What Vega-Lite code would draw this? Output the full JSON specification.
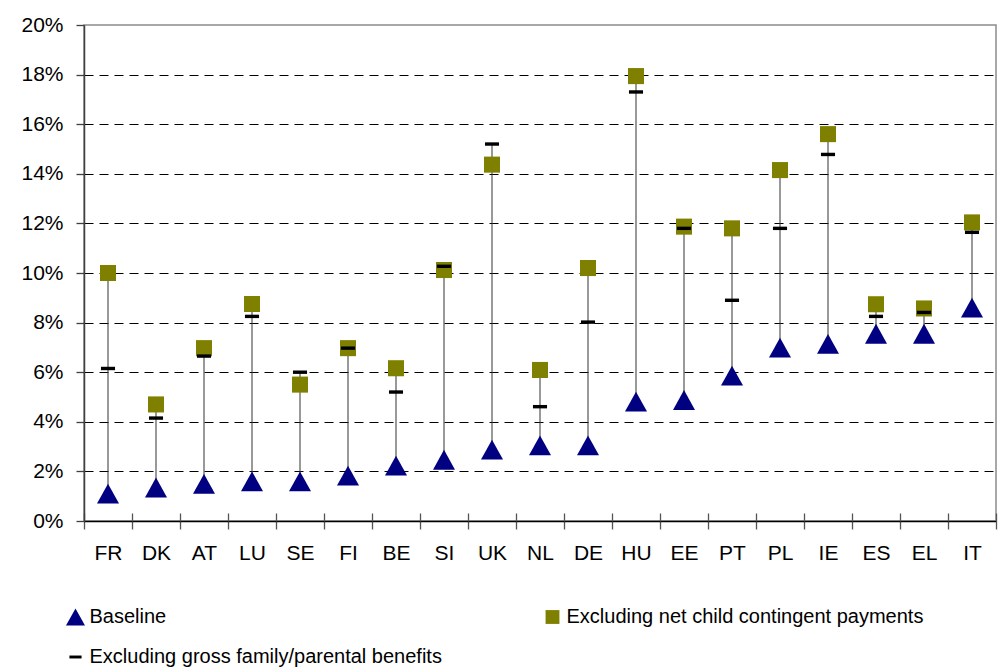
{
  "$schema": "https://vega.github.io/schema/vega-lite/v6.json",
  "description": "Baseline vs excluding family benefits / child contingent payments, by country",
  "width": 912,
  "height": 496,
  "autosize": "none",
  "padding": {"left": 84, "top": 25, "right": 8, "bottom": 147},
  "background": "white",
  "data": {
    "values": [
      {"country": "FR", "Baseline": 1.1, "Excluding net child contingent payments": 10.0, "Excluding gross family/parental benefits": 6.15},
      {"country": "DK", "Baseline": 1.35, "Excluding net child contingent payments": 4.7, "Excluding gross family/parental benefits": 4.15},
      {"country": "AT", "Baseline": 1.5, "Excluding net child contingent payments": 6.97, "Excluding gross family/parental benefits": 6.65},
      {"country": "LU", "Baseline": 1.6, "Excluding net child contingent payments": 8.75, "Excluding gross family/parental benefits": 8.25},
      {"country": "SE", "Baseline": 1.6, "Excluding net child contingent payments": 5.5, "Excluding gross family/parental benefits": 6.0},
      {"country": "FI", "Baseline": 1.83, "Excluding net child contingent payments": 6.97, "Excluding gross family/parental benefits": 6.97},
      {"country": "BE", "Baseline": 2.23, "Excluding net child contingent payments": 6.16, "Excluding gross family/parental benefits": 5.2},
      {"country": "SI", "Baseline": 2.47, "Excluding net child contingent payments": 10.12, "Excluding gross family/parental benefits": 10.27},
      {"country": "UK", "Baseline": 2.88, "Excluding net child contingent payments": 14.37, "Excluding gross family/parental benefits": 15.2},
      {"country": "NL", "Baseline": 3.05, "Excluding net child contingent payments": 6.09, "Excluding gross family/parental benefits": 4.61},
      {"country": "DE", "Baseline": 3.05, "Excluding net child contingent payments": 10.2, "Excluding gross family/parental benefits": 8.02},
      {"country": "HU", "Baseline": 4.81, "Excluding net child contingent payments": 17.94, "Excluding gross family/parental benefits": 17.3},
      {"country": "EE", "Baseline": 4.88, "Excluding net child contingent payments": 11.87, "Excluding gross family/parental benefits": 11.8},
      {"country": "PT", "Baseline": 5.86, "Excluding net child contingent payments": 11.8, "Excluding gross family/parental benefits": 8.9},
      {"country": "PL", "Baseline": 6.99, "Excluding net child contingent payments": 14.15, "Excluding gross family/parental benefits": 11.8},
      {"country": "IE", "Baseline": 7.14, "Excluding net child contingent payments": 15.6, "Excluding gross family/parental benefits": 14.78},
      {"country": "ES", "Baseline": 7.55, "Excluding net child contingent payments": 8.74, "Excluding gross family/parental benefits": 8.25},
      {"country": "EL", "Baseline": 7.55, "Excluding net child contingent payments": 8.57, "Excluding gross family/parental benefits": 8.41},
      {"country": "IT", "Baseline": 8.6, "Excluding net child contingent payments": 12.04, "Excluding gross family/parental benefits": 11.64}
    ]
  },
  "transform": [
    {
      "fold": ["Baseline", "Excluding net child contingent payments", "Excluding gross family/parental benefits"],
      "as": ["series", "value"]
    }
  ],
  "layer": [
    {
      "mark": {"type": "rule", "color": "#333333", "strokeWidth": 1},
      "encoding": {
        "x": {
          "field": "country",
          "type": "nominal",
          "sort": null,
          "scale": {"paddingInner": 0, "paddingOuter": 0},
          "axis": {
            "title": null,
            "orient": "bottom",
            "labelAngle": 0,
            "tickBand": "extent",
            "tickSize": 8,
            "tickColor": "#555555",
            "tickWidth": 1.3,
            "domainColor": "black",
            "domainWidth": 1.3,
            "labelPadding": 13,
            "labelFontSize": 21
          }
        },
        "y": {
          "aggregate": "min",
          "field": "value",
          "type": "quantitative",
          "scale": {"domain": [0, 20], "nice": false},
          "axis": {
            "title": null,
            "values": [0, 2, 4, 6, 8, 10, 12, 14, 16, 18, 20],
            "labelExpr": "datum.value + '%'",
            "grid": true,
            "gridColor": {"condition": {"test": "datum.value == 20 || datum.value == 0", "value": "transparent"}, "value": "black"},
            "gridDash": [9, 6],
            "gridWidth": 1,
            "tickSize": 8,
            "tickColor": "#404040",
            "tickWidth": 1.3,
            "domainColor": "#404040",
            "domainWidth": 1.5,
            "labelPadding": 13,
            "labelFontSize": 21
          }
        },
        "y2": {"aggregate": "max", "field": "value"}
      }
    },
    {
      "mark": {"type": "point", "filled": true, "opacity": 1, "size": 484, "strokeWidth": 0},
      "encoding": {
        "x": {
          "field": "country",
          "type": "nominal",
          "sort": null,
          "axis": {
            "title": null,
            "orient": "bottom",
            "labels": false,
            "domain": false,
            "tickBand": "extent",
            "tickSize": -8,
            "tickColor": "#555555",
            "tickWidth": 1.3
          }
        },
        "y": {"field": "value", "type": "quantitative"},
        "shape": {
          "field": "series",
          "type": "nominal",
          "sort": ["Baseline", "Excluding net child contingent payments", "Excluding gross family/parental benefits"],
          "scale": {
            "domain": ["Baseline", "Excluding net child contingent payments", "Excluding gross family/parental benefits"],
            "range": [
              "M0,-0.9L-1,0.9L1,0.9Z",
              "M-0.73,-0.73L0.73,-0.73L0.73,0.73L-0.73,0.73Z",
              "M-0.64,-0.155L0.64,-0.155L0.64,0.155L-0.64,0.155Z"
            ]
          },
          "legend": {
            "title": null,
            "orient": "none",
            "direction": "horizontal",
            "legendX": -18.5,
            "legendY": 582,
            "columns": 2,
            "gridAlign": "none",
            "columnPadding": 100,
            "rowPadding": 20,
            "symbolSize": 360,
            "symbolStrokeWidth": 0,
            "labelFontSize": 20,
            "labelOffset": 4,
            "labelLimit": 600,
            "padding": 0,
            "values": ["Baseline", "Excluding net child contingent payments", "Excluding gross family/parental benefits"]
          }
        },
        "color": {
          "field": "series",
          "type": "nominal",
          "sort": ["Baseline", "Excluding net child contingent payments", "Excluding gross family/parental benefits"],
          "scale": {
            "domain": ["Baseline", "Excluding net child contingent payments", "Excluding gross family/parental benefits"],
            "range": ["#000080", "#808000", "#000000"]
          },
          "legend": {
            "title": null,
            "orient": "none",
            "direction": "horizontal",
            "legendX": -18.5,
            "legendY": 582,
            "columns": 2,
            "gridAlign": "none",
            "columnPadding": 100,
            "rowPadding": 20,
            "symbolSize": 360,
            "symbolStrokeWidth": 0,
            "labelFontSize": 20,
            "labelOffset": 4,
            "labelLimit": 600,
            "padding": 0,
            "values": ["Baseline", "Excluding net child contingent payments", "Excluding gross family/parental benefits"]
          }
        }
      }
    }
  ],
  "resolve": {"axis": {"x": "independent"}},
  "config": {
    "font": "Liberation Sans",
    "view": {"stroke": "#8c8c8c", "strokeWidth": 1.5},
    "axis": {"labelColor": "black", "labelFont": "Liberation Sans"},
    "legend": {"labelColor": "black", "labelFont": "Liberation Sans"}
  }
}
